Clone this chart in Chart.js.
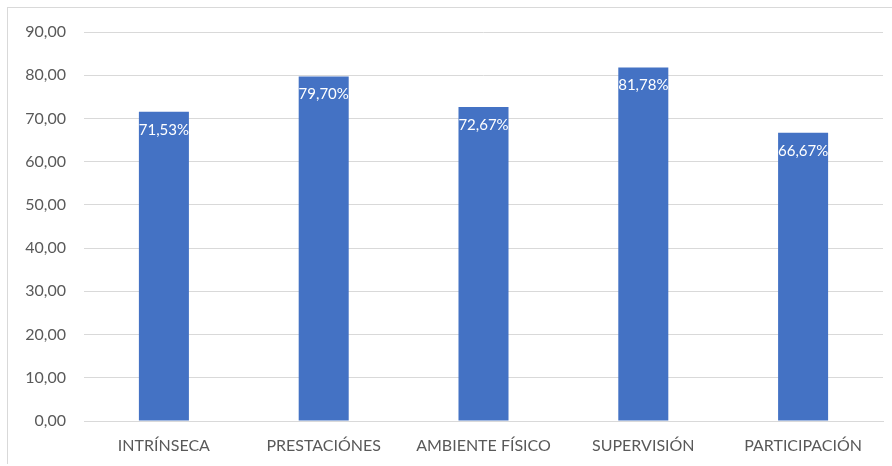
<!DOCTYPE html>
<html>
<head>
<meta charset="utf-8">
<script src="https://cdn.jsdelivr.net/npm/chart.js@4/dist/chart.umd.min.js"></script>
<style>
  html, body { margin: 0; padding: 0; background: #fff; }
  #wrap { position: relative; width: 892px; height: 466px; }
  #frame { position: absolute; left: 7px; top: 7px; width: 900px; height: 457px;
           border-left: 1px solid #d9d9d9; border-top: 1px solid #d9d9d9; box-sizing: border-box; }
  canvas { position: absolute; left: 0; top: 0; }
</style>
</head>
<body>
<div id="wrap">
  <div id="frame"></div>
  <canvas id="c" width="892" height="466"></canvas>
</div>
<script>
const categories = ["INTRÍNSECA", "PRESTACIÓNES", "AMBIENTE FÍSICO", "SUPERVISIÓN", "PARTICIPACIÓN"];
const values = [71.53, 79.70, 72.67, 81.78, 66.67];
const valueLabels = ["71,53%", "79,70%", "72,67%", "81,78%", "66,67%"];

const FONT = "Lato, 'Open Sans', sans-serif";

const labelPlugin = {
  id: 'insideLabels',
  afterDatasetsDraw(chart) {
    const ctx = chart.ctx;
    const meta = chart.getDatasetMeta(0);
    ctx.save();
    ctx.fillStyle = '#ffffff';
    ctx.font = '15px ' + FONT;
    ctx.textAlign = 'center';
    ctx.textBaseline = 'middle';
    meta.data.forEach((bar, i) => {
      ctx.fillText(valueLabels[i], bar.x, bar.y + 18);
    });
    ctx.restore();
  }
};

new Chart(document.getElementById('c'), {
  type: 'bar',
  data: {
    labels: categories,
    datasets: [{
      data: values,
      backgroundColor: '#4472c4',
      borderWidth: 0,
      categoryPercentage: 1.0,
      barPercentage: 0.313
    }]
  },
  options: {
    responsive: false,
    animation: false,
    devicePixelRatio: 1,
    layout: { padding: { left: 8, right: 9, top: 32, bottom: 0 } },
    plugins: { legend: { display: false }, tooltip: { enabled: false } },
    scales: {
      x: {
        grid: { display: false, drawTicks: false },
        border: { display: true, color: '#d9d9d9', width: 1 },
        ticks: { color: '#595959', font: { family: FONT, size: 16 }, padding: 15, maxRotation: 0, autoSkip: false },
        afterFit(scale) { scale.height = 45; }
      },
      y: {
        min: 0, max: 90,
        ticks: {
          stepSize: 10, color: '#595959', padding: 18,
          font: { family: FONT, size: 16 },
          callback: (v) => v.toFixed(2).replace('.', ',')
        },
        grid: { color: '#d9d9d9', lineWidth: 1, drawTicks: false },
        border: { display: false },
        afterFit(scale) { scale.width = 76; }
      }
    }
  },
  plugins: [labelPlugin]
});
</script>
</body>
</html>
